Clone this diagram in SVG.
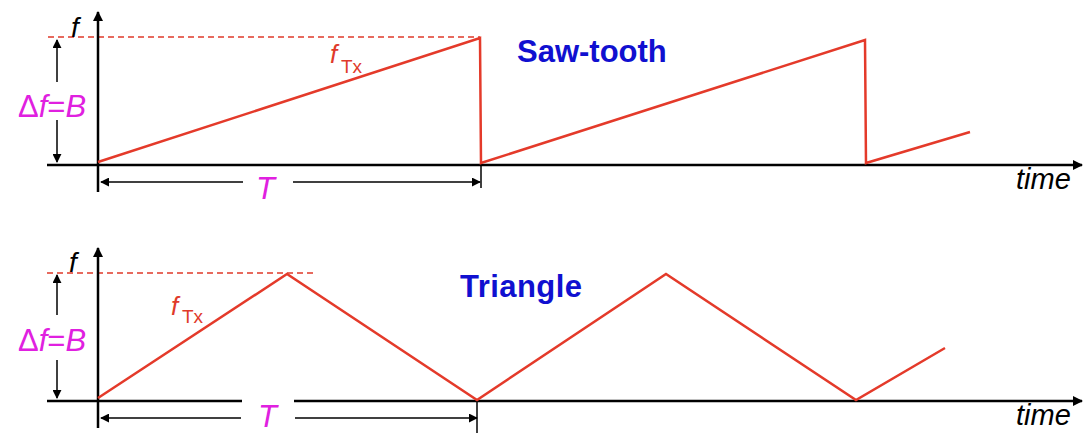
<svg xmlns="http://www.w3.org/2000/svg" width="1084" height="433" viewBox="0 0 1084 433">
<defs>
<marker id="ah" viewBox="0 0 10 10" refX="9" refY="5" markerWidth="10" markerHeight="10" markerUnits="userSpaceOnUse" orient="auto-start-reverse"><path d="M0,0 L10,5 L0,10 z" fill="#000"/></marker>
<marker id="ahs" viewBox="0 0 10 10" refX="9" refY="5" markerWidth="9" markerHeight="9" markerUnits="userSpaceOnUse" orient="auto-start-reverse"><path d="M0,0 L10,5 L0,10 z" fill="#000"/></marker>
</defs>
<style>
.axis{stroke:#000;stroke-width:2.5;fill:none}
.dim{stroke:#000;stroke-width:1.5;fill:none}
.dash{stroke:#e03a2a;stroke-width:1.3;stroke-dasharray:6,4;fill:none}
.sig{stroke:#e43a2a;stroke-width:2.5;fill:none;stroke-linejoin:miter}
.lbl{font-family:"Liberation Sans",Arial,sans-serif}
.mag{fill:#e020e0;font-size:31px}
.ital{font-style:italic}
.title{fill:#1010d0;font-size:31px;font-weight:bold}
.ftx{fill:#e03a2a}
</style>
<rect width="1084" height="433" fill="#fff"/>
<g id="connectors">
<!-- top -->
<line class="dash" x1="48" y1="37" x2="480" y2="37"/>
<line class="axis" x1="98" y1="192" x2="98" y2="12" marker-end="url(#ah)"/>
<line class="axis" x1="47" y1="165" x2="1082" y2="165" marker-end="url(#ah)"/>
<line class="dim" x1="57" y1="82" x2="57" y2="40" marker-end="url(#ahs)"/>
<line class="dim" x1="57" y1="120" x2="57" y2="162" marker-end="url(#ahs)"/>
<line class="dim" x1="243" y1="182" x2="101" y2="182" marker-end="url(#ahs)"/>
<line class="dim" x1="293" y1="182" x2="480" y2="182" marker-end="url(#ahs)"/>
<line class="dim" x1="481" y1="165" x2="481" y2="188"/>
<polyline class="sig" points="98,162 480,38 481,163 865,40 866,163 970,132"/>
<!-- bottom -->
<line class="dash" x1="47" y1="273" x2="315" y2="273"/>
<line class="axis" x1="98" y1="428" x2="98" y2="248" marker-end="url(#ah)"/>
<line class="axis" x1="47" y1="401" x2="242" y2="401"/>
<line class="axis" x1="294" y1="401" x2="1082" y2="401" marker-end="url(#ah)"/>
<line class="dim" x1="57" y1="315" x2="57" y2="275" marker-end="url(#ahs)"/>
<line class="dim" x1="57" y1="360" x2="57" y2="398" marker-end="url(#ahs)"/>
<line class="dim" x1="241" y1="418" x2="101" y2="418" marker-end="url(#ahs)"/>
<line class="dim" x1="295" y1="418" x2="477" y2="418" marker-end="url(#ahs)"/>
<line class="dim" x1="477" y1="401" x2="477" y2="433"/>
<polyline class="sig" points="98,398 287,274 477,400 666,274 856,400 945,348"/>
</g>
<g id="labels-top">
<text class="lbl ital" x="71" y="37" font-size="28">f</text>
<text class="lbl mag" x="18" y="117"><tspan>Δ</tspan><tspan class="ital">f</tspan><tspan>=</tspan><tspan class="ital">B</tspan></text>
<text class="lbl mag ital" x="256" y="199" font-size="30">T</text>
<text class="lbl ftx ital" x="330" y="63" font-size="26">f</text>
<text class="lbl ftx" x="341" y="73" font-size="19">Tx</text>
<text class="lbl title" x="517" y="62">Saw-tooth</text>
<text class="lbl ital" x="1016" y="189" font-size="29">time</text>
</g>
<g id="labels-bottom">
<text class="lbl ital" x="69" y="272" font-size="28">f</text>
<text class="lbl mag" x="18" y="351"><tspan>Δ</tspan><tspan class="ital">f</tspan><tspan>=</tspan><tspan class="ital">B</tspan></text>
<text class="lbl mag ital" x="258" y="427" font-size="25">T</text>
<text class="lbl ftx ital" x="171" y="315" font-size="26">f</text>
<text class="lbl ftx" x="182" y="323" font-size="19">Tx</text>
<text class="lbl title" x="460" y="297" textLength="122">Triangle</text>
<text class="lbl ital" x="1016" y="425" font-size="29">time</text>
</g>
</svg>
